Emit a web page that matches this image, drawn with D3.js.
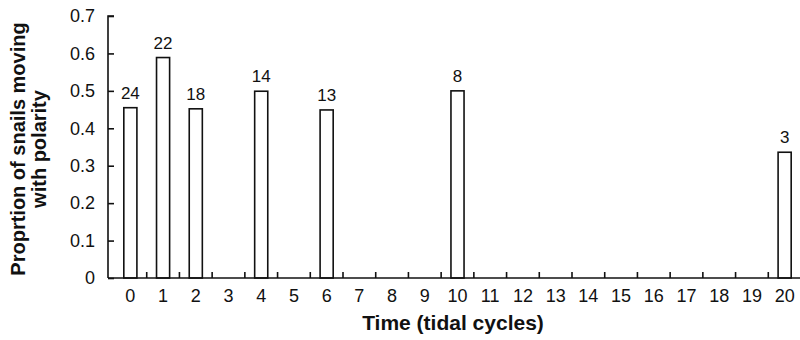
<!DOCTYPE html>
<html>
<head>
<meta charset="utf-8">
<script src="https://cdn.jsdelivr.net/npm/d3@7"></script>
<style>
  body { margin: 0; background: #fff; }
  svg { display: block; font-family: Arial, "Liberation Sans", Helvetica, sans-serif; }
  .axis path, .axis line { stroke: #111; stroke-width: 1.6; }
  .axis text { font-size: 18px; fill: #111; }
  .title { font-weight: bold; fill: #111; }
  .bar-label { font-size: 17px; fill: #111; }
</style>
</head>
<body>
<svg id="chart" width="800" height="340"></svg>
<script>
// Time categories (tidal cycles)
const times = d3.range(0, 21).map(String);
// Proportion of snails moving with polarity (only measured cycles)
const measuredTimes = ['0', '1', '2', '4', '6', '10', '20'];
const proportions = [0.455, 0.589, 0.452, 0.499, 0.449, 0.5, 0.336];
// Sample sizes shown above the bars
const sampleSizes = [24, 22, 18, 14, 13, 8, 3];
const yTicks = [0, 0.1, 0.2, 0.3, 0.4, 0.5, 0.6, 0.7];

(function() {
    const svg = d3.select('#chart');

    const originX = 108;
    const x = d3.scaleBand()
        .domain(times)
        .range([114, 801])
        .paddingInner(0.6)
        .paddingOuter(0.3);

    const y = d3.scaleLinear()
        .domain([0, 0.7])
        .range([278, 16]);

    // Bars
    const bars = measuredTimes.map((t, i) => ({ t, v: proportions[i], n: sampleSizes[i] }));

    svg.append('g')
        .selectAll('rect')
        .data(bars)
        .join('rect')
        .attr('x', d => x(d.t))
        .attr('y', d => y(d.v))
        .attr('width', x.bandwidth())
        .attr('height', d => y(0) - y(d.v))
        .attr('fill', '#fff')
        .attr('stroke', '#111')
        .attr('stroke-width', 1.6);

    // Sample size labels
    svg.append('g')
        .selectAll('text')
        .data(bars)
        .join('text')
        .attr('class', 'bar-label')
        .attr('x', d => x(d.t) + x.bandwidth() / 2)
        .attr('y', d => y(d.v) - 9)
        .attr('text-anchor', 'middle')
        .text(d => d.n);

    // X axis: ticks between categories, labels centred in each band
    const xAxis = svg.append('g')
        .attr('class', 'axis')
        .attr('transform', `translate(0, ${y(0)})`);

    xAxis.append('line')
        .attr('x1', originX)
        .attr('x2', 800)
        .attr('y1', 0)
        .attr('y2', 0);

    const step = x.step();
    const start = x.range()[0];
    xAxis.selectAll('.tick-mark')
        .data(d3.range(1, times.length))
        .join('line')
        .attr('class', 'tick-mark')
        .attr('x1', i => start + i * step)
        .attr('x2', i => start + i * step)
        .attr('y1', 0)
        .attr('y2', -6);

    xAxis.selectAll('.tick-label')
        .data(times)
        .join('text')
        .attr('class', 'tick-label')
        .attr('x', d => x(d) + x.bandwidth() / 2)
        .attr('y', 24)
        .attr('text-anchor', 'middle')
        .text(d => d);

    // Y axis
    const yAxis = svg.append('g')
        .attr('class', 'axis')
        .attr('transform', `translate(${originX}, 0)`)
        .call(d3.axisLeft(y)
            .tickValues(yTicks)
            .tickSizeInner(-6)
            .tickSizeOuter(0)
            .tickPadding(13)
            .tickFormat(d => d === 0 ? '0' : d3.format('.1f')(d)));
    yAxis.select('.domain').attr('d', `M0,${y(0)}V${y(0.7)}H6`);

    // Axis titles
    svg.append('text')
        .attr('class', 'title')
        .attr('x', 453)
        .attr('y', 330)
        .attr('text-anchor', 'middle')
        .style('font-size', '21px')
        .text('Time (tidal cycles)');

    const yTitle = svg.append('text')
        .attr('class', 'title')
        .attr('transform', 'translate(25, 149) rotate(-90)')
        .attr('text-anchor', 'middle')
        .style('font-size', '20px');
    yTitle.append('tspan').attr('x', 0).attr('dy', 0).text('Proprtion of snails moving');
    yTitle.append('tspan').attr('x', 0).attr('dy', 21).text('with polarity');
})();
</script>
</body>
</html>
